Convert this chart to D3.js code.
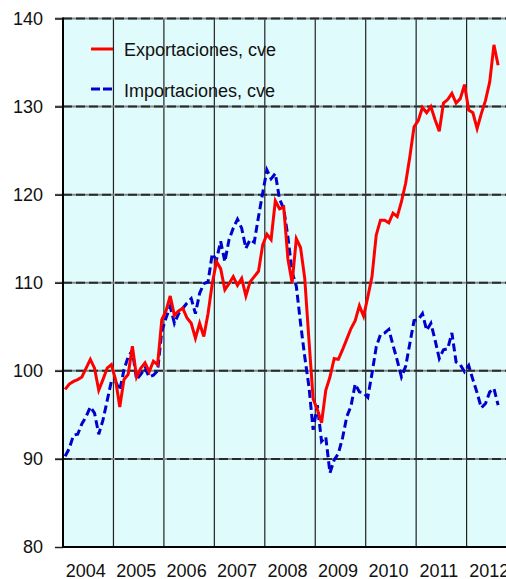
<!DOCTYPE html>
<html>
<head>
<meta charset="utf-8">
<script src="https://cdn.jsdelivr.net/npm/d3@7"></script>
<style>
html,body{margin:0;padding:0;background:#fff;overflow:hidden;}
svg{display:block;font-family:"Liberation Sans",Arial,sans-serif;}
</style>
</head>
<body>
<div id="chart"></div>
<script>
const years = ["2004","2005","2006","2007","2008","2009","2010","2011","2012"];
const yTicks = [80, 90, 100, 110, 120, 130, 140];
const seriesNames = ["Exportaciones, cve", "Importaciones, cve"];

const exportaciones = [
  97.9, 98.5, 98.8, 99.0, 99.3, 100.3, 101.3, 100.3, 97.8, 99.0, 100.3, 100.7,
  99.0, 95.9, 99.0, 99.6, 102.8, 99.3, 100.3, 100.9, 99.9, 101.1, 100.7, 105.8,
  106.8, 108.5, 106.3, 106.8, 107.1, 106.0, 105.4, 103.7, 105.4, 103.9, 106.5, 109.9,
  112.4, 111.6, 109.2, 109.9, 110.7, 109.7, 110.5, 108.5, 110.1, 110.7, 111.3, 114.3,
  115.5, 114.9, 119.3, 118.4, 118.6, 112.7, 110.0, 115.0, 114.0, 110.5, 103.5, 96.8,
  95.6, 94.1, 97.8, 99.3, 101.4, 101.3, 102.4, 103.6, 104.8, 105.7, 107.4, 106.2,
  108.4, 110.7, 115.4, 117.1, 117.1, 116.8, 117.9, 117.5, 119.2, 121.3, 124.3, 127.7,
  128.4, 129.9, 129.3, 130.0, 128.5, 127.2, 130.4, 130.8, 131.5, 130.4, 130.9, 132.5,
  129.6, 129.3, 127.5, 129.2, 130.7, 132.8, 137.0, 134.7
];
const importaciones = [
  90.3, 91.2, 92.7, 92.8, 94.0, 94.8, 95.9, 95.2, 92.8, 94.4, 96.6, 98.8,
  98.8, 97.8, 100.1, 101.6, 102.3, 99.0, 99.6, 100.3, 99.3, 99.5, 100.0, 104.5,
  106.0, 107.3, 105.4, 106.5, 107.1, 107.7, 108.2, 106.5, 108.8, 109.9, 110.1, 113.3,
  112.6, 114.7, 112.4, 114.9, 116.2, 117.2, 116.2, 113.9, 114.9, 114.6, 117.5, 120.2,
  122.8, 121.8, 122.4, 119.5, 118.4, 115.2, 111.2, 109.6, 105.4, 101.6, 98.2, 93.3,
  96.1, 92.0, 92.5, 88.4, 89.9, 90.6, 92.4, 94.8, 96.0, 98.5, 97.6, 97.5,
  97.0, 99.7, 102.7, 104.1, 104.3, 104.7, 102.9, 101.2, 99.3, 100.5, 103.1, 105.7,
  105.8, 106.5, 104.6, 105.4, 103.5, 101.4, 102.4, 102.5, 104.3, 101.0, 100.7, 99.9,
  100.6, 99.0, 97.5, 95.8, 96.3, 97.6, 98.0, 96.1
];

(function () {
const W = 506, H = 579;
const pLeft = 63, pTop = 18.5, pBottom = 547;
const yearW = 50.45;
const pRight = pLeft + years.length * yearW;

const svg = d3.select("#chart").append("svg").attr("width", W).attr("height", H);

const x = d3.scaleLinear().domain([0, years.length * 12]).range([pLeft, pRight]);
const y = d3.scaleLinear().domain([80, 140]).range([pBottom, pTop]);

// background
svg.append("rect").attr("x", pLeft).attr("y", pTop)
  .attr("width", pRight - pLeft).attr("height", pBottom - pTop).attr("fill", "#e0fbfb");

// vertical grid lines (year boundaries)
svg.append("g").selectAll("line").data(d3.range(1, years.length)).join("line")
  .attr("x1", d => x(d * 12)).attr("x2", d => x(d * 12))
  .attr("y1", pTop).attr("y2", pBottom)
  .attr("stroke", "#222").attr("stroke-width", 1.2);

// horizontal grid lines
const hg = svg.append("g");
const gridVals = yTicks.filter(v => v > 80);
hg.selectAll("line.base").data(gridVals).join("line")
  .attr("class", "base")
  .attr("x1", pLeft - 8).attr("x2", W)
  .attr("y1", d => y(d)).attr("y2", d => y(d))
  .attr("stroke", "#7f8c8c").attr("stroke-width", 2);
hg.selectAll("line.dash").data(gridVals).join("line")
  .attr("class", "dash")
  .attr("x1", pLeft).attr("x2", W)
  .attr("y1", d => y(d)).attr("y2", d => y(d))
  .attr("stroke", "#2a2a2a").attr("stroke-width", 2)
  .attr("stroke-dasharray", "9,4");

// y axis
const yAxis = d3.axisLeft(y).tickValues(yTicks).tickSize(8).tickPadding(12).tickFormat(d3.format("d"));
const ga = svg.append("g").attr("transform", `translate(${pLeft},0)`).call(yAxis);
ga.select(".domain").remove();
ga.selectAll(".tick line").attr("stroke", "#222").attr("stroke-width", 1.5);
ga.selectAll(".tick text").attr("font-size", 18).attr("fill", "#111")
  .attr("font-family", "Liberation Sans, Arial, sans-serif");

// axis lines
svg.append("line").attr("x1", pLeft).attr("x2", pLeft).attr("y1", pTop - 1).attr("y2", pBottom + 1)
  .attr("stroke", "#000").attr("stroke-width", 2);
svg.append("line").attr("x1", pLeft).attr("x2", W).attr("y1", pBottom).attr("y2", pBottom)
  .attr("stroke", "#000").attr("stroke-width", 2);

// x labels
svg.append("g").selectAll("text").data(years).join("text")
  .attr("x", (d, i) => x(i * 12 + 6) - 2.5)
  .attr("y", 577)
  .attr("text-anchor", "middle")
  .attr("font-size", 18).attr("fill", "#111")
  .text(d => d);

// lines
const line = d3.line().x((d, i) => x(i + 0.5)).y(d => y(d)).curve(d3.curveLinear);
svg.append("path").datum(importaciones).attr("d", line)
  .attr("fill", "none").attr("stroke", "#0000cc").attr("stroke-width", 3)
  .attr("stroke-dasharray", "8,4");
svg.append("path").datum(exportaciones).attr("d", line)
  .attr("fill", "none").attr("stroke", "#ff0000").attr("stroke-width", 3)
  .attr("stroke-linejoin", "miter");

// legend
const legend = [
  {name: seriesNames[0], color: "#ff0000", dash: null, ly: 49, ty: 56},
  {name: seriesNames[1], color: "#0000cc", dash: "9,3", ly: 89, ty: 96.5}
];
const lg = svg.append("g");
legend.forEach(l => {
  lg.append("line").attr("x1", 91).attr("x2", 113).attr("y1", l.ly).attr("y2", l.ly)
    .attr("stroke", l.color).attr("stroke-width", 3)
    .attr("stroke-dasharray", l.dash);
  lg.append("text").attr("x", 124).attr("y", l.ty).attr("font-size", 18).attr("fill", "#111")
    .text(l.name);
});
})();
</script>
</body>
</html>
